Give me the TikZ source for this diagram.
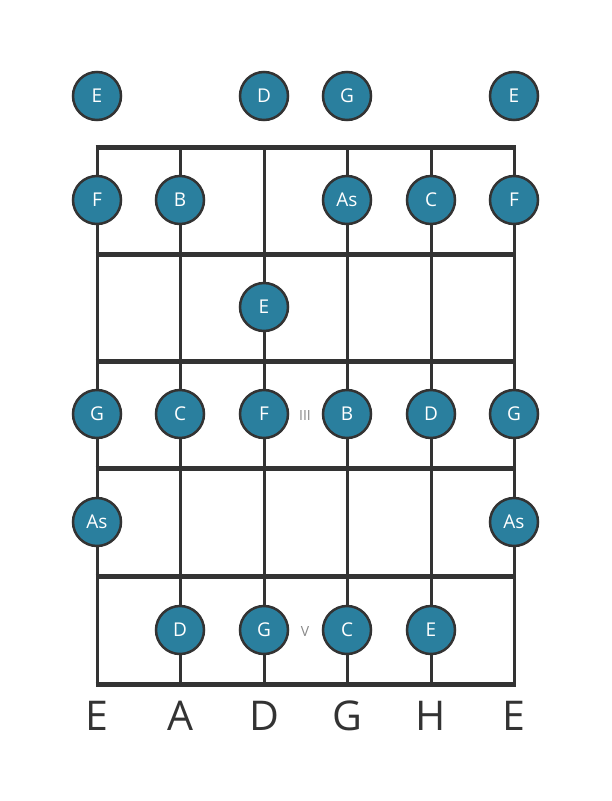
\documentclass[tikz,border=0pt]{standalone}
\usepackage{fontspec}
\setmainfont{Open Sans}
\definecolor{notefill}{HTML}{2A7F9E}
\definecolor{linecol}{HTML}{333333}
\definecolor{numcol}{HTML}{888888}
\begin{document}
\begin{tikzpicture}[x=1pt,y=-1pt,
  fretline/.style={line width=5pt,color=linecol},
  stringline/.style={line width=3pt,color=linecol},
  note/.style={circle,draw=linecol,line width=2.5pt,fill=notefill,minimum size=48pt,inner sep=0pt,text=white,font=\fontsize{19}{19}\selectfont},
  strlabel/.style={text=linecol,font=\fontsize{41}{41}\selectfont},
  fretnum/.style={text=numcol,font=\fontsize{14}{14}\selectfont}]
\useasboundingbox (0,0) rectangle (611,801);
% strings
\foreach \x/\n in {97/s1,180/s2,264/s3,347/s4,431/s5,514/s6}{
  \coordinate (\n t) at (\x,147);
  \coordinate (\n b) at (\x,684);
  \draw[stringline] (\n t) -- (\n b);
}
% frets
\foreach \y/\n in {147/f0,254/f1,361/f2,468/f3,576/f4,684/f5}{
  \coordinate (\n l) at (95.5,\y);
  \coordinate (\n r) at (515.5,\y);
  \draw[fretline] (\n l) -- (\n r);
}
% open notes
\node[note] (o1) at (97,96) {E};
\node[note] (o3) at (264,96) {D};
\node[note] (o4) at (347,96) {G};
\node[note] (o6) at (514,96) {E};
% fret 1
\node[note] (a1) at (97,200) {F};
\node[note] (a2) at (180,200) {B};
\node[note] (a4) at (347,200) {As};
\node[note] (a5) at (431,200) {C};
\node[note] (a6) at (514,200) {F};
% fret 2
\node[note] (b3) at (264,307) {E};
% fret 3
\node[note] (c1) at (97,414) {G};
\node[note] (c2) at (180,414) {C};
\node[note] (c3) at (264,414) {F};
\node[note] (c4) at (347,414) {B};
\node[note] (c5) at (431,414) {D};
\node[note] (c6) at (514,414) {G};
% fret 4
\node[note] (d1) at (97,522) {As};
\node[note] (d6) at (514,522) {As};
% fret 5
\node[note] (e2) at (180,630) {D};
\node[note] (e3) at (264,630) {G};
\node[note] (e4) at (347,630) {C};
\node[note] (e5) at (431,630) {E};
% fret numbers
\node[fretnum] (n3) at (305,415) {III};
\node[fretnum] (n5) at (305,631) {V};
% string labels
\foreach \x/\t/\n in {97/E/l1,180/A/l2,264/D/l3,347/G/l4,431/H/l5,514/E/l6}{
  \node[strlabel] (\n) at (\x,716) {\t};
}
\end{tikzpicture}
\end{document}
